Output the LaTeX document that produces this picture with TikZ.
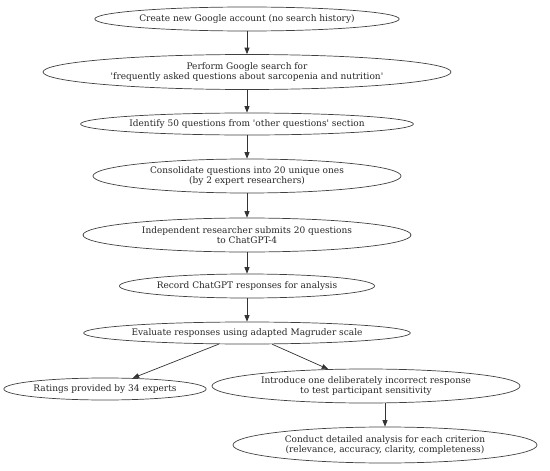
\documentclass[tikz,border=0pt]{standalone}
\usepackage{fontspec}
\setmainfont{DejaVu Serif}[Ligatures=TeXOff]
\usetikzlibrary{shapes.geometric,arrows.meta}
\begin{document}
\begin{tikzpicture}[x=1pt,y=-1pt,
  box/.style={draw=black!75,line width=0.7pt,ellipse,inner sep=0pt,align=center,text=black!85,font=\fontsize{9}{10.3}\selectfont},
  arr/.style={-{Triangle[length=6.5pt,width=5pt]},line width=0.7pt,black!80}]
\useasboundingbox (0,0) rectangle (550,471);
\node[box,minimum width=298,minimum height=24] (a) at (247,19) {Create new Google account (no search history)};
\node[box,minimum width=408,minimum height=35] (b) at (247,72) {Perform Google search for\\'frequently asked questions about sarcopenia and nutrition'};
\node[box,minimum width=328,minimum height=22] (c) at (247,124) {Identify 50 questions from 'other questions' section};
\node[box,minimum width=308,minimum height=34] (d) at (247,176) {Consolidate questions into 20 unique ones\\(by 2 expert researchers)};
\node[box,minimum width=328,minimum height=34] (e) at (247,235) {Independent researcher submits 20 questions\\to ChatGPT-4};
\node[box,minimum width=250,minimum height=24] (f) at (247,286) {Record ChatGPT responses for analysis};
\node[box,minimum width=324,minimum height=22] (g) at (247,333) {Evaluate responses using adapted Magruder scale};
\node[box,minimum width=196,minimum height=22] (h) at (105,389) {Ratings provided by 34 experts};
\node[box,minimum width=308,minimum height=34] (i) at (366,386) {Introduce one deliberately incorrect response\\to test participant sensitivity};
\node[box,minimum width=304,minimum height=36] (j) at (385,445) {Conduct detailed analysis for each criterion\\(relevance, accuracy, clarity, completeness)};
\draw[arr] (a) -- (b);
\draw[arr] (b) -- (c);
\draw[arr] (c) -- (d);
\draw[arr] (d) -- (e);
\draw[arr] (e) -- (f);
\draw[arr] (f) -- (g);
\draw[arr] (g) -- (h);
\draw[arr] (g) -- (i);
\draw[arr] (i.south -| j.north) -- (j.north);
\end{tikzpicture}
\end{document}
